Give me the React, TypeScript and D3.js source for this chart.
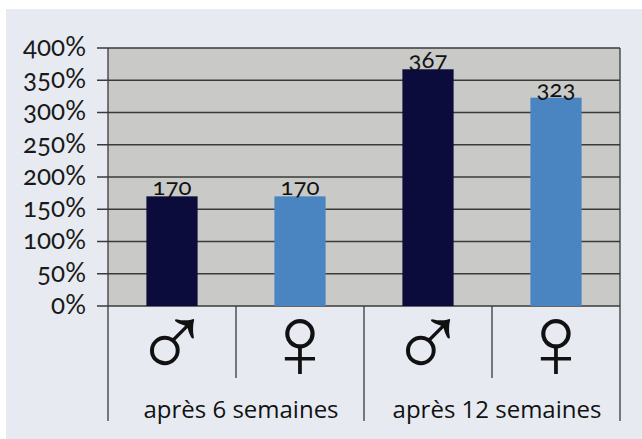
import React from "react";
import * as d3 from "d3";

const categories = ["m6", "f6", "m12", "f12"];
const symbols = ["♂", "♀", "♂", "♀"];
const values = [170, 170, 367, 323];
const colors = ["#0b0b3c", "#4a85c1", "#0b0b3c", "#4a85c1"];
const groups = ["après 6 semaines", "après 12 semaines"];
const yTicks = [0, 50, 100, 150, 200, 250, 300, 350, 400];

export default function App() {
  const W = 642, H = 439;
  const left = 108, right = 620, top = 48, bottom = 306;
  const x = d3.scaleBand<string>().domain(categories).range([left, right]).paddingInner(0).paddingOuter(0);
  const y = d3.scaleLinear().domain([0, 400]).range([bottom, top]);
  const bw = x.bandwidth() * 0.4;
  const groupX = d3.scaleBand<string>().domain(groups).range([left, right]);
  const font = "'Open Sans', 'DejaVu Sans', sans-serif";
  const numFont = "Lato, 'Open Sans', sans-serif";
  return (
    <svg width={W} height={H} style={{ position: "absolute", left: 0, top: 0 }}>
      <rect x={0} y={0} width={W} height={H} fill="#ffffff" />
      <rect x={6} y={9} width={W - 6} height={H - 9} fill="#e7ebf1" />
      <rect x={left} y={top} width={right - left} height={bottom - top} fill="#c9c9c7" />
      {yTicks.map((t) => (
        <g key={t}>
          <line x1={97} x2={right} y1={y(t)} y2={y(t)} stroke="#3a3a3a" strokeWidth={1.3} />
          <text x={86} y={y(t)} dy="0.3em" textAnchor="end" fontFamily={numFont} fontSize={26}
            style={{ fontVariantNumeric: "oldstyle-nums" }} fill="#1a1a1a">
            {t}%
          </text>
        </g>
      ))}
      <line x1={left} x2={left} y1={top} y2={421} stroke="#3a3a3a" strokeWidth={1.3} />
      <line x1={right} x2={right} y1={top} y2={421} stroke="#3a3a3a" strokeWidth={1.3} />
      <line x1={x("m12")!} x2={x("m12")!} y1={bottom} y2={421} stroke="#3a3a3a" strokeWidth={1.3} />
      <line x1={x("f6")!} x2={x("f6")!} y1={bottom} y2={378} stroke="#3a3a3a" strokeWidth={1.3} />
      <line x1={x("f12")!} x2={x("f12")!} y1={bottom} y2={378} stroke="#3a3a3a" strokeWidth={1.3} />
      {categories.map((c, i) => {
        const cx = x(c)! + x.bandwidth() / 2;
        return (
          <g key={c}>
            <rect x={cx - bw / 2} y={y(values[i])} width={bw} height={bottom - y(values[i])} fill={colors[i]} />
            <text x={cx} y={y(values[i]) - 1} textAnchor="middle" fontFamily={numFont} fontSize={24}
              style={{ fontVariantNumeric: "oldstyle-nums" }} fill="#111">
              {values[i]}
            </text>
            <text x={cx} y={378} textAnchor="middle" fontFamily="'Liberation Sans', 'DejaVu Sans', sans-serif" fontSize={105} fill="#111">
              {symbols[i]}
            </text>
          </g>
        );
      })}
      {groups.map((g) => (
        <text key={g} x={groupX(g)! + groupX.bandwidth() / 2 + 5} y={418} textAnchor="middle" fontFamily={font} fontSize={24} fill="#111">
          {g}
        </text>
      ))}
    </svg>
  );
}
